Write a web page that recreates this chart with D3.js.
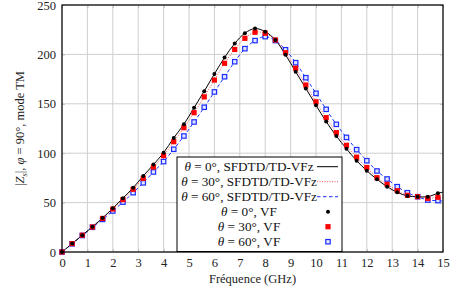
<!DOCTYPE html>
<html>
<head>
<meta charset="utf-8">
<script src="https://cdn.jsdelivr.net/npm/d3@7"></script>
<style>
  body { margin: 0; background: #fff; }
  text { font-family: "Liberation Serif", "DejaVu Serif", serif; }
</style>
</head>
<body>
<div id="chart"></div>
<script>
// frequences (GHz) des points VF
const freq = [0, 0.4, 0.8, 1.2, 1.6, 2.0, 2.4, 2.8, 3.2, 3.6, 4.0, 4.4, 4.8, 5.2, 5.6, 6.0, 6.4, 6.8, 7.2,
    7.6, 8.0, 8.4, 8.8, 9.2, 9.6, 10.0, 10.4, 10.8, 11.2, 11.6, 12.0, 12.4, 12.8, 13.2, 13.6, 14.0, 14.4, 14.8];
const vf0 = [0, 8.6, 17, 25.5, 34.4, 44.2, 54.5, 65, 77, 88.5, 100.5, 115.5, 129.3, 146, 162.8, 180.2, 196.8, 211, 221.5,
    226.2, 223, 214.6, 199.6, 182.5, 165.6, 148.5, 132, 117.4, 104.5, 92.4, 82.3, 73.6, 66.1, 60.4, 56.7, 56, 56, 59.4];
const vf30 = [0, 8.5, 17, 25.3, 34, 43.5, 53, 63.5, 74.6, 86, 97.5, 111.6, 125.8, 141, 157, 174, 191, 205, 216.3,
    222.4, 221.4, 214.6, 201.7, 186, 169, 152, 136, 120.8, 108, 96, 85.5, 75.2, 68.5, 62, 57.4, 56, 54.3, 55.4];
const vf60 = [0, 8.3, 16.7, 25, 33, 41.5, 50.5, 60, 70, 81, 91.5, 104, 117.4, 131.6, 146.5, 162, 177.4, 192.6, 205.8,
    214, 218, 214, 204.7, 191.6, 176.4, 160.6, 144.4, 129.2, 116, 103.6, 92.4, 82, 73.9, 66.1, 60, 56, 52.6, 52];

// courbes SFDTD/TD-VFz (meme grille + point final a 15 GHz)
const lineFreq = [...freq, 15];
const sf0 = [...vf0, 60.6];
const sf30 = [...vf30, 55.2];
const sf60 = [...vf60, 51.6];

const xTicks = [0, 1, 2, 3, 4, 5, 6, 7, 8, 9, 10, 11, 12, 13, 14, 15];
const yTicks = [0, 50, 100, 150, 200, 250];

const margin = { top: 5, right: 11, bottom: 41, left: 62 },
    width = 454 - margin.left - margin.right,
    height = 293 - margin.top - margin.bottom;

const svg = d3.select("#chart")
    .append("svg")
    .attr("width", 454)
    .attr("height", 293);

const chart = svg.append("g")
    .attr("transform", `translate(${margin.left},${margin.top})`);

const x = d3.scaleLinear().domain([0, 15]).range([0, width]);
const y = d3.scaleLinear().domain([0, 250]).range([height, 0]);

// grille
chart.append("g")
    .selectAll("line.gx")
    .data(xTicks)
    .enter().append("line")
    .attr("x1", d => x(d)).attr("x2", d => x(d))
    .attr("y1", 0).attr("y2", height)
    .attr("stroke", "#cfcfcf").attr("stroke-width", 1);

chart.append("g")
    .selectAll("line.gy")
    .data(yTicks)
    .enter().append("line")
    .attr("x1", 0).attr("x2", width)
    .attr("y1", d => y(d)).attr("y2", d => y(d))
    .attr("stroke", "#cfcfcf").attr("stroke-width", 1);

// axes
const xAxis = chart.append("g")
    .attr("transform", `translate(0,${height})`)
    .call(d3.axisBottom(x).tickValues(xTicks).tickSize(-3).tickPadding(6));
const yAxis = chart.append("g")
    .call(d3.axisLeft(y).tickValues(yTicks).tickSize(-3).tickPadding(6));
chart.append("g")
    .attr("transform", `translate(${width},0)`)
    .call(d3.axisRight(y).tickValues(yTicks).tickSize(-3).tickFormat(""));
chart.append("g")
    .call(d3.axisTop(x).tickValues(xTicks).tickSize(-3).tickFormat(""));

chart.selectAll(".domain").remove();
chart.selectAll(".tick line").attr("stroke", "#bbb");
[xAxis, yAxis].forEach(a => a.selectAll("text")
    .style("font-size", "12.5px")
    .attr("fill", "#222")
    .style("font-family", "'Liberation Serif', serif"));

// lignes
const line = (xs, ys) => d3.line()
    .x((d, i) => x(xs[i]))
    .y(d => y(d))
    .curve(d3.curveCatmullRom)(ys);

chart.append("path").attr("d", line(lineFreq, sf60))
    .attr("fill", "none").attr("stroke", "#2030ff").attr("stroke-width", 1)
    .attr("stroke-dasharray", "3.5,2.5");
chart.append("path").attr("d", line(lineFreq, sf30))
    .attr("fill", "none").attr("stroke", "#ff5050").attr("stroke-width", 1)
    .attr("stroke-dasharray", "1,1.5");
chart.append("path").attr("d", line(lineFreq, sf0))
    .attr("fill", "none").attr("stroke", "#000").attr("stroke-width", 1);

// marqueurs VF
chart.selectAll(".m60")
    .data(vf60).enter().append("rect")
    .attr("x", (d, i) => x(freq[i]) - 2.2)
    .attr("y", d => y(d) - 2.2)
    .attr("width", 4.4).attr("height", 4.4)
    .attr("fill", "#e4e6ff").attr("stroke", "#1a2cff").attr("stroke-width", 1.2);

chart.selectAll(".m30")
    .data(vf30).enter().append("rect")
    .attr("x", (d, i) => x(freq[i]) - 2.6)
    .attr("y", d => y(d) - 2.6)
    .attr("width", 5.2).attr("height", 5.2)
    .attr("fill", "#ff0000");

chart.selectAll(".m0")
    .data(vf0).enter().append("circle")
    .attr("cx", (d, i) => x(freq[i]))
    .attr("cy", d => y(d))
    .attr("r", 2)
    .attr("fill", "#000");

// cadre
chart.append("rect")
    .attr("width", width).attr("height", height)
    .attr("fill", "none").attr("stroke", "#000").attr("stroke-width", 1.2);

// legende
const legend = [
    { label: ["θ", " = 0°, SFDTD/TD-VFz"], type: "solid" },
    { label: ["θ", " = 30°, SFDTD/TD-VFz"], type: "dot" },
    { label: ["θ", " = 60°, SFDTD/TD-VFz"], type: "dash" },
    { label: ["θ", " = 0°, VF"], type: "circle" },
    { label: ["θ", " = 30°, VF"], type: "fsquare" },
    { label: ["θ", " = 60°, VF"], type: "osquare" }
];

const lg = svg.append("g").attr("transform", "translate(177,157)");
lg.append("rect")
    .attr("width", 165).attr("height", 94.5)
    .attr("fill", "#fff").attr("stroke", "#000").attr("stroke-width", 1);

legend.forEach((d, i) => {
    const cy = 9.7 + i * 15;
    const t = lg.append("text")
        .attr("x", 72).attr("y", cy + 4.3)
        .attr("text-anchor", "middle")
        .style("font-size", "13.2px")
        .attr("fill", "#111");
    t.append("tspan").style("font-style", "italic").text(d.label[0]);
    t.append("tspan").text(d.label[1]);

    if (d.type === "solid") {
        lg.append("line").attr("x1", 140).attr("x2", 161).attr("y1", cy).attr("y2", cy)
            .attr("stroke", "#000").attr("stroke-width", 1);
    } else if (d.type === "dot") {
        lg.append("line").attr("x1", 140).attr("x2", 161).attr("y1", cy).attr("y2", cy)
            .attr("stroke", "#ff5050").attr("stroke-width", 1).attr("stroke-dasharray", "1,1.5");
    } else if (d.type === "dash") {
        lg.append("line").attr("x1", 140).attr("x2", 161).attr("y1", cy).attr("y2", cy)
            .attr("stroke", "#2030ff").attr("stroke-width", 1).attr("stroke-dasharray", "3.5,2.5");
    } else if (d.type === "circle") {
        lg.append("circle").attr("cx", 151).attr("cy", cy).attr("r", 2).attr("fill", "#000");
    } else if (d.type === "fsquare") {
        lg.append("rect").attr("x", 148.4).attr("y", cy - 2.6).attr("width", 5.2).attr("height", 5.2)
            .attr("fill", "#ff0000");
    } else {
        lg.append("rect").attr("x", 148.8).attr("y", cy - 2.2).attr("width", 4.4).attr("height", 4.4)
            .attr("fill", "#e4e6ff").attr("stroke", "#1a2cff").attr("stroke-width", 1.2);
    }
});

// titres des axes
svg.append("text")
    .attr("x", margin.left + width / 2)
    .attr("y", 283)
    .attr("text-anchor", "middle")
    .style("font-size", "12.5px")
    .attr("fill", "#222")
    .text("Fréquence (GHz)");

const yl = svg.append("text")
    .attr("transform", `translate(24,${margin.top + height / 2}) rotate(-90)`)
    .attr("text-anchor", "middle")
    .style("font-size", "12.5px")
    .attr("fill", "#222");
yl.append("tspan").text("|");
yl.append("tspan").style("font-style", "italic").text("Z");
yl.append("tspan").attr("dy", 3).style("font-size", "8.5px").style("font-style", "italic").text("s");
yl.append("tspan").attr("dy", -3).text("|, ");
yl.append("tspan").style("font-style", "italic").text("φ");
yl.append("tspan").text(" = 90°, mode TM");
</script>
</body>
</html>
